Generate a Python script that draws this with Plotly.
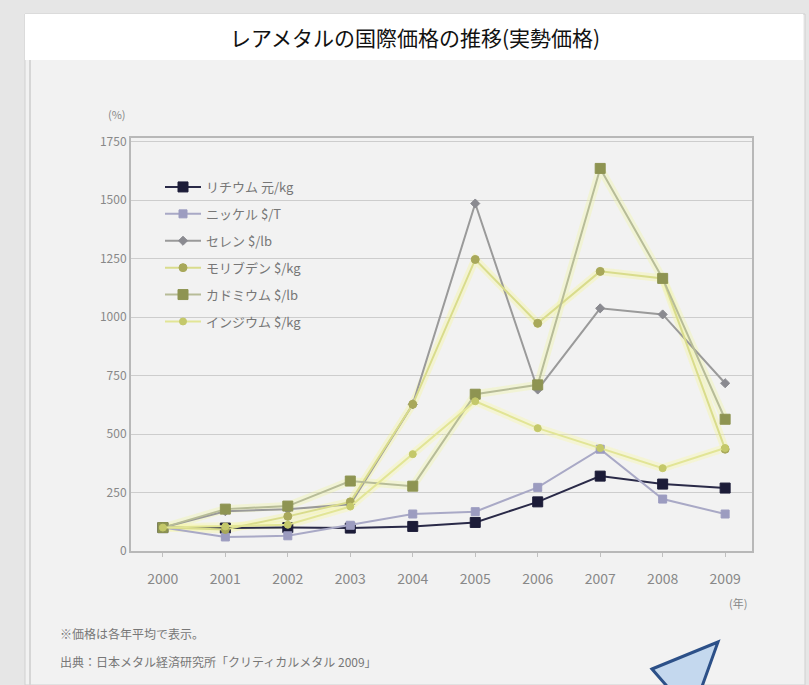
import plotly.graph_objects as go

# Index values (2000 = 100), annual averages
years = [2000, 2001, 2002, 2003, 2004, 2005, 2006, 2007, 2008, 2009]
lithium = [100, 98, 100, 98, 105, 122, 210, 320, 286, 269]
nickel = [100, 60, 65, 110, 158, 168, 272, 435, 222, 158]
selenium = [100, 170, 178, 200, 627, 1485, 690, 1037, 1011, 717]
molybdenum = [100, 92, 148, 210, 627, 1246, 973, 1195, 1165, 435]
cadmium = [100, 179, 192, 299, 277, 670, 710, 1635, 1165, 563]
indium = [100, 105, 112, 190, 414, 640, 525, 440, 354, 440]

y_ticks = [0, 250, 500, 750, 1000, 1250, 1500, 1750]
x_labels = [str(y) for y in years]

FONT = "Noto Sans CJK JP"

# plot area in pixels (page is 809 x 685)
L, R, T, B = 131, 752, 138, 551
W, H = 809, 685


def px(x):
    return (x - L) / (R - L)


def py(y):
    return (B - y) / (B - T)


series = [
    ("リチウム 元/kg", lithium, "#2a2a48", "#1c1c38", "square", 10, None),
    ("ニッケル $/T", nickel, "#a9a9c6", "#9c9cc0", "square", 8, None),
    ("セレン $/lb", selenium, "#9a9a9a", "#8a8a90", "diamond", 7, None),
    ("モリブデン $/kg", molybdenum, "#d9dc8c", "#a8a85a", "circle", 8, "rgba(245,245,150,0.35)"),
    ("カドミウム $/lb", cadmium, "#b7bc98", "#8e9452", "square", 10, "rgba(240,245,160,0.35)"),
    ("インジウム $/kg", indium, "#e2e596", "#c4c86a", "circle", 7, "rgba(250,250,160,0.35)"),
]

fig = go.Figure()

# soft halo under the yellow-toned lines
for name, vals, lc, mc, sym, ms, glow in series:
    if glow:
        fig.add_trace(go.Scatter(
            x=years, y=vals, mode="lines",
            line=dict(color=glow, width=8),
            hoverinfo="skip", showlegend=False,
        ))

for i, (name, vals, lc, mc, sym, ms, glow) in enumerate(series):
    fig.add_trace(go.Scatter(
        x=years, y=vals, name=name, mode="lines+markers",
        legendgroup=f"g{i}",
        line=dict(color=lc, width=2),
        marker=dict(symbol=sym, size=ms, color=mc, line=dict(color=mc, width=1)),
    ))

shapes = [
    # window frame and title strip
    dict(type="rect", xref="paper", yref="paper", x0=px(0), x1=px(W), y0=py(H), y1=py(0),
         fillcolor="#e6e6e6", line=dict(width=0), layer="below"),
    dict(type="rect", xref="paper", yref="paper", x0=px(25), x1=px(805), y0=py(H), y1=py(14),
         fillcolor="#f2f2f2", line=dict(color="#d0d0d0", width=1), layer="below"),
    dict(type="rect", xref="paper", yref="paper", x0=px(25), x1=px(803), y0=py(60), y1=py(14),
         fillcolor="#ffffff", line=dict(width=0), layer="below"),
    dict(type="line", xref="paper", yref="paper", x0=px(30), x1=px(30), y0=py(H), y1=py(60),
         line=dict(color="#d6d6d6", width=2), layer="below"),
    # pointer arrow at the lower right, running off the bottom edge
    dict(type="path", xref="paper", yref="paper",
         path=(f"M {px(652)},{py(669)} L {px(718)},{py(642)} L {px(700)},{py(692)} "
               f"L {px(672)},{py(692)} Z"),
         fillcolor="#c4d8ee", line=dict(color="#2c5088", width=3)),
]

annotations = [
    dict(text="レアメタルの国際価格の推移(実勢価格)", x=px(415), y=py(37), xref="paper", yref="paper",
         showarrow=False, font=dict(family=FONT, size=21, color="#111111"), xanchor="center", yanchor="middle"),
    dict(text="(%)", x=px(117), y=py(114), xref="paper", yref="paper", showarrow=False,
         font=dict(family=FONT, size=11, color="#888888"), xanchor="center", yanchor="middle"),
    dict(text="(年)", x=px(738), y=py(603), xref="paper", yref="paper", showarrow=False,
         font=dict(family=FONT, size=11, color="#888888"), xanchor="center", yanchor="middle"),
    dict(text="※価格は各年平均で表示。", x=px(58), y=py(633), xref="paper", yref="paper", showarrow=False,
         font=dict(family=FONT, size=12, color="#777777"), xanchor="left", yanchor="middle"),
    dict(text="出典：日本メタル経済研究所「クリティカルメタル 2009」", x=px(58), y=py(661), xref="paper",
         yref="paper", showarrow=False, font=dict(family=FONT, size=12, color="#777777"),
         xanchor="left", yanchor="middle"),
]

fig.update_layout(
    width=W, height=H,
    margin=dict(l=L, r=W - R, t=T, b=H - B),
    paper_bgcolor="#f2f2f2",
    plot_bgcolor="#f4f4f7",
    font=dict(family=FONT, size=12, color="#777777"),
    shapes=shapes,
    annotations=annotations,
    legend=dict(
        x=px(160), y=py(172), xanchor="left", yanchor="top",
        bgcolor="rgba(0,0,0,0)", borderwidth=0,
        font=dict(family=FONT, size=13, color="#777777"),
        tracegroupgap=7, itemwidth=36,
    ),
    showlegend=True,
)

fig.update_xaxes(
    range=[1999.49, 2009.43], tickmode="array", tickvals=years, ticktext=x_labels,
    showgrid=False, showline=True, linecolor="#b8b8b8", linewidth=2, mirror=True,
    ticks="outside", ticklen=4, tickcolor="#c0c0c0", ticklabelstandoff=10,
    tickfont=dict(family=FONT, size=14, color="#888888"), zeroline=False,
)
fig.update_yaxes(
    range=[0, 1765], tickmode="array", tickvals=y_ticks,
    showgrid=True, gridcolor="#cdcdcd", gridwidth=1,
    showline=True, linecolor="#b8b8b8", linewidth=2, mirror=True,
    ticks="", tickfont=dict(family=FONT, size=12, color="#888888"), zeroline=False,
)

fig.write_html("out.html")
